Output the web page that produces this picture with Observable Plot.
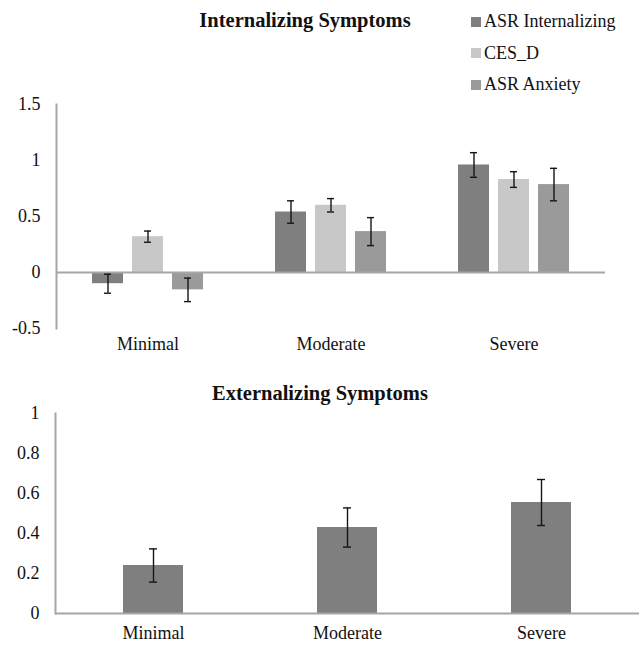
<!DOCTYPE html>
<html>
<head>
<meta charset="utf-8">
<script src="https://cdn.jsdelivr.net/npm/d3@7"></script>
<script src="https://cdn.jsdelivr.net/npm/@observablehq/plot@0.6"></script>
<style>
  html, body { margin: 0; padding: 0; background: #fff; }
  #wrap { position: relative; width: 639px; height: 647px; font-family: "Liberation Serif", "Times New Roman", serif; color: #111; }
  #wrap svg { position: absolute; left: 0; font-family: "Liberation Serif", "Times New Roman", serif !important; font-size: 18px !important; }
  #wrap svg text { font-family: "Liberation Serif", "Times New Roman", serif !important; }
  .title { position: absolute; left: 0; text-align: center; font-weight: bold; font-size: 20.5px; line-height: 24px; z-index: 2; white-space: nowrap; }
  #legend { position: absolute; left: 471px; top: 6px; z-index: 2; }
  .lrow { display: flex; align-items: center; height: 31.5px; font-size: 18px; }
  .sw { width: 10px; height: 10px; margin-right: 3px; flex: none; }
</style>
</head>
<body>
<div id="wrap">
  <div id="topChart"></div>
  <div id="bottomChart"></div>
  <div class="title" id="t1" style="width:610px; top:8px;"></div>
  <div class="title" id="t2" style="width:640px; top:381px;"></div>
  <div id="legend"></div>
</div>
<script>
// ---------- data ----------
const categories = ["Minimal", "Moderate", "Severe"];
const series = ["ASR Internalizing", "CES_D", "ASR Anxiety"];
const seriesColors = ["#7f7f7f", "#c7c8c7", "#999a99"];

const asrInternalizing = [-0.10, 0.54, 0.96];
const asrInternalizingErr = [0.085, 0.10, 0.11];
const cesD = [0.32, 0.60, 0.83];
const cesDErr = [0.05, 0.06, 0.07];
const asrAnxiety = [-0.155, 0.365, 0.785];
const asrAnxietyErr = [0.105, 0.125, 0.145];

const externalizing = [0.24, 0.43, 0.555];
const externalizingErr = [0.083, 0.098, 0.115];

const topTicks = [-0.5, 0, 0.5, 1, 1.5];
const bottomTicks = [0, 0.2, 0.4, 0.6, 0.8, 1];

const topTitle = "Internalizing Symptoms";
const bottomTitle = "Externalizing Symptoms";

// ---------- tables ----------
const seriesValues = [asrInternalizing, cesD, asrAnxiety];
const seriesErrs = [asrInternalizingErr, cesDErr, asrAnxietyErr];
const topData = [];
categories.forEach((c, i) => {
  series.forEach((s, j) => {
    topData.push({category: c, series: s, value: seriesValues[j][i], err: seriesErrs[j][i]});
  });
});
const bottomData = categories.map((c, i) => ({category: c, value: externalizing[i], err: externalizingErr[i]}));

const fmt = d => String(d);
const axisGray = "#a6a6a6";
const errColor = "#151515";
const baseStyle = {fontFamily: "Liberation Serif, serif", fontSize: "18px", background: "transparent", color: "#111", overflow: "visible"};

// ---------- top chart ----------
const topPlot = Plot.plot({
  width: 639,
  height: 360,
  marginLeft: 55,
  marginRight: 33,
  marginTop: 104,
  marginBottom: 32,
  style: baseStyle,
  fx: {domain: categories, padding: 0, label: null},
  x: {domain: series, axis: null, paddingInner: 0.22, paddingOuter: 0.85},
  y: {domain: [-0.5, 1.5], label: null},
  color: {domain: series, range: seriesColors},
  marks: [
    Plot.barY(topData, {fx: "category", x: "series", y: "value", fill: "series"}),
    Plot.ruleY([0], {stroke: axisGray, strokeWidth: 2}),
    Plot.frame({anchor: "left", facetAnchor: "left", stroke: axisGray, strokeWidth: 2, strokeOpacity: 1}),
    Plot.ruleX(topData, {fx: "category", x: "series", y1: d => d.value - d.err, y2: d => d.value + d.err, stroke: errColor, strokeWidth: 1.4}),
    Plot.tickY(topData, {fx: "category", x: "series", y: d => d.value - d.err, insetLeft: 12, insetRight: 12, stroke: errColor, strokeWidth: 1.4}),
    Plot.tickY(topData, {fx: "category", x: "series", y: d => d.value + d.err, insetLeft: 12, insetRight: 12, stroke: errColor, strokeWidth: 1.4}),
    Plot.axisY({ticks: topTicks, tickFormat: fmt, tickSize: 0, tickPadding: 16, label: null, fill: "#111"}),
    Plot.axisFx({anchor: "bottom", tickSize: 0, tickPadding: 9, label: null, fill: "#111"})
  ]
});
topPlot.style.top = "0px";
document.getElementById("topChart").appendChild(topPlot);

// ---------- bottom chart ----------
const bottomPlot = Plot.plot({
  width: 639,
  height: 277,
  marginLeft: 55,
  marginRight: 0,
  marginTop: 43,
  marginBottom: 34,
  style: baseStyle,
  x: {domain: categories, paddingInner: 0.69, paddingOuter: 0.345, label: null},
  y: {domain: [0, 1], label: null},
  marks: [
    Plot.barY(bottomData, {x: "category", y: "value", fill: seriesColors[0]}),
    Plot.ruleY([0], {stroke: axisGray, strokeWidth: 2}),
    Plot.frame({anchor: "left", stroke: axisGray, strokeWidth: 2, strokeOpacity: 1}),
    Plot.ruleX(bottomData, {x: "category", y1: d => d.value - d.err, y2: d => d.value + d.err, stroke: errColor, strokeWidth: 1.4}),
    Plot.tickY(bottomData, {x: "category", y: d => d.value - d.err, insetLeft: 26, insetRight: 26, stroke: errColor, strokeWidth: 1.4}),
    Plot.tickY(bottomData, {x: "category", y: d => d.value + d.err, insetLeft: 26, insetRight: 26, stroke: errColor, strokeWidth: 1.4}),
    Plot.axisY({ticks: bottomTicks, tickFormat: fmt, tickSize: 0, tickPadding: 16, label: null, fill: "#111"}),
    Plot.axisX({anchor: "bottom", tickSize: 0, tickPadding: 13, label: null, fill: "#111"})
  ]
});
bottomPlot.style.top = "370px";
document.getElementById("bottomChart").appendChild(bottomPlot);

// ---------- titles & legend ----------
document.getElementById("t1").textContent = topTitle;
document.getElementById("t2").textContent = bottomTitle;
const legend = d3.select("#legend");
series.forEach((s, j) => {
  const row = legend.append("div").attr("class", "lrow");
  row.append("div").attr("class", "sw").style("background", seriesColors[j]);
  row.append("span").text(s);
});
</script>
</body>
</html>
